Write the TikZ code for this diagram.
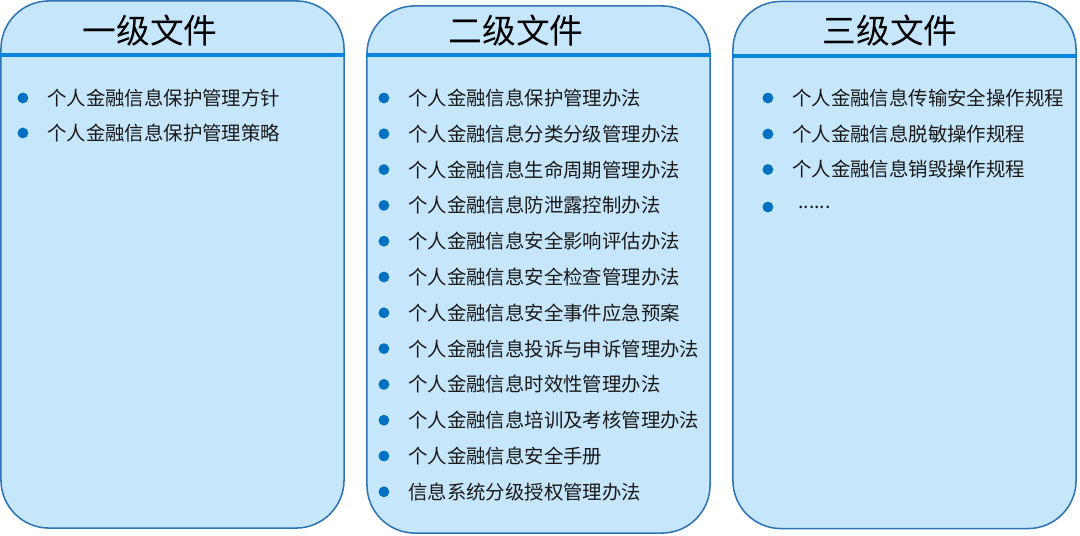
\documentclass[tikz,border=0pt]{standalone}
\usepackage{fontspec}
\setmainfont{Noto Sans CJK SC}
\usepackage{xcolor}
\definecolor{panelfill}{RGB}{197, 230, 251}
\definecolor{panelline}{RGB}{46, 117, 182}
\definecolor{rulerblue}{RGB}{8, 132, 218}
\definecolor{dotblue}{RGB}{0, 112, 192}
\definecolor{textgray}{RGB}{25, 25, 25}

\tikzset{
    panel/.style={rectangle,draw=panelline,line width=1.1pt,fill=panelfill,
        minimum width=8.575cm,minimum height=13.175cm,rounded corners=1.2cm,inner sep=0pt},
    paneltitle/.style={inner sep=0pt,text=black,font=\fontsize{24}{26}\selectfont},
    titlerule/.style={draw=rulerblue,line width=3.3pt},
    entry/.style={anchor=west,inner sep=0pt,text=textgray,font=\fontsize{13.8}{15}\selectfont,
        label={[circle,fill=dotblue,inner sep=0pt,minimum size=0.27cm,label distance=#1]left:{}}},
    entry/.default=0.46cm
}

\begin{document}
\begin{tikzpicture}[x=0.025cm,y=-0.025cm]
        \useasboundingbox (0,0) rectangle (1080,536);

        % three panels
        \node[panel] (lvlone) at (172.5,264.5) {};
        \node[panel] (lvltwo) at (538.5,269.5) {};
        \node[panel] (lvlthree) at (904.5,265) {};

        % titles and rules
        \node[paneltitle] (titleone) at (150,31) {一级文件};
        \node[paneltitle] (titletwo) at (516,31) {二级文件};
        \node[paneltitle] (titlethree) at (890,31) {三级文件};
        \coordinate (ruleone) at (0,55);
        \coordinate (ruletwo) at (0,55);
        \coordinate (rulethree) at (0,56);
        \draw[titlerule] (lvlone.west |- ruleone) -- (lvlone.east |- ruleone);
        \draw[titlerule] (lvltwo.west |- ruletwo) -- (lvltwo.east |- ruletwo);
        \draw[titlerule] (lvlthree.west |- rulethree) -- (lvlthree.east |- rulethree);

        % first level
        \node[entry] (onea) at (47,98) {个人金融信息保护管理方针};
        \node[entry] (oneb) at (47,133) {个人金融信息保护管理策略};

        % second level
        \node[entry] (twoa) at (408,98) {个人金融信息保护管理办法};
        \node[entry] (twob) at (408,133.8) {个人金融信息分类分级管理办法};
        \node[entry] (twoc) at (408,169.6) {个人金融信息生命周期管理办法};
        \node[entry] (twod) at (408,205.4) {个人金融信息防泄露控制办法};
        \node[entry] (twoe) at (408,241.2) {个人金融信息安全影响评估办法};
        \node[entry] (twof) at (408,277) {个人金融信息安全检查管理办法};
        \node[entry] (twog) at (408,312.8) {个人金融信息安全事件应急预案};
        \node[entry] (twoh) at (408,348.6) {个人金融信息投诉与申诉管理办法};
        \node[entry] (twoi) at (408,384.4) {个人金融信息时效性管理办法};
        \node[entry] (twoj) at (408,420.2) {个人金融信息培训及考核管理办法};
        \node[entry] (twok) at (408,456) {个人金融信息安全手册};
        \node[entry] (twol) at (408,491.8) {信息系统分级授权管理办法};

        % third level
        \node[entry] (threea) at (792,98) {个人金融信息传输安全操作规程};
        \node[entry] (threeb) at (792,134) {个人金融信息脱敏操作规程};
        \node[entry] (threec) at (792,169.5) {个人金融信息销毁操作规程};
        \node[entry=0.61cm] (threed) at (798,207) {......};
    \end{tikzpicture}
\end{document}
